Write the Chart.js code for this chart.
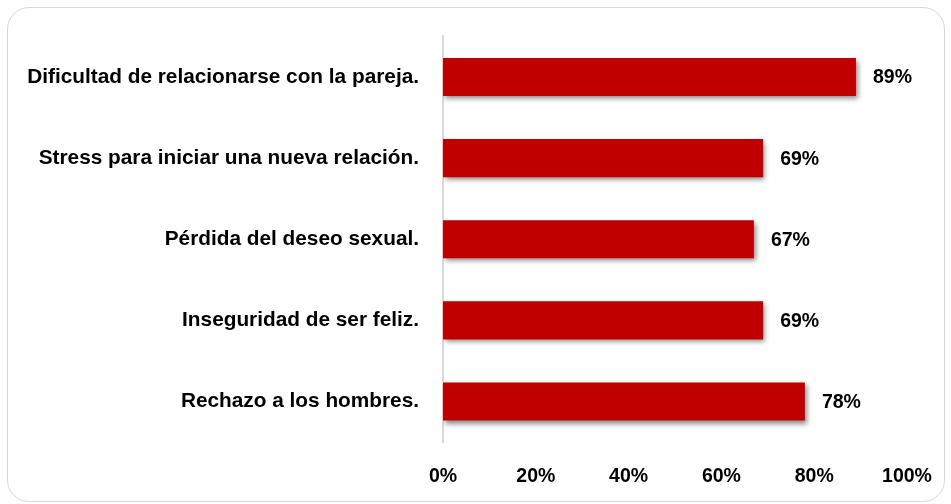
<!DOCTYPE html>
<html lang="es">
<head>
  <meta charset="UTF-8" />
  <title>Efectos en la relación</title>
  <script src="https://cdn.jsdelivr.net/npm/chart.js"></script>
  <style>
    html, body { margin: 0; padding: 0; background: #fff; }
    #marco { position: absolute; left: 7px; top: 7px; width: 936px; height: 493px; border: 1.5px solid #d9d9d9; border-radius: 22px; }
    #wrap { position: absolute; left: 0; top: 0; width: 951px; height: 504px; }
  </style>
</head>
<body>
<div id="marco"></div>
<div id="wrap"><canvas id="grafico" width="951" height="504"></canvas></div>

<script>
const categorias = [
  'Dificultad de relacionarse con la pareja.',
  'Stress para iniciar una nueva relación.',
  'Pérdida del deseo sexual.',
  'Inseguridad de ser feliz.',
  'Rechazo a los hombres.'
];
const valores = [89, 69, 67, 69, 78];
const ticksX = [0, 20, 40, 60, 80, 100];

const fuente = "'Liberation Sans', Arial, sans-serif";

// sombra de las barras
const sombra = {
  id: 'sombra',
  beforeDatasetDraw(chart) {
    const ctx = chart.ctx;
    ctx.save();
    ctx.shadowColor = 'rgba(0,0,0,0.45)';
    ctx.shadowBlur = 5;
    ctx.shadowOffsetX = 2;
    ctx.shadowOffsetY = 3;
  },
  afterDatasetDraw(chart) {
    chart.ctx.restore();
  }
};

// etiquetas de valor al final de cada barra
const etiquetas = {
  id: 'etiquetas',
  afterDatasetsDraw(chart) {
    const ctx = chart.ctx;
    const meta = chart.getDatasetMeta(0);
    ctx.save();
    ctx.font = 'bold 19.5px ' + fuente;
    ctx.fillStyle = '#000';
    ctx.textAlign = 'left';
    ctx.textBaseline = 'middle';
    meta.data.forEach((bar, i) => {
      ctx.fillText(valores[i] + '%', bar.x + 17, bar.y + 1);
    });
    ctx.restore();
  }
};

new Chart(document.getElementById('grafico'), {
  type: 'bar',
  data: {
    labels: categorias,
    datasets: [{
      data: valores,
      backgroundColor: '#C00000',
      borderWidth: 0,
      barPercentage: 0.47,
      categoryPercentage: 1
    }]
  },
  options: {
    indexAxis: 'y',
    responsive: false,
    animation: false,
    layout: { padding: { top: 35, right: 44, bottom: 0, left: 0 } },
    plugins: { legend: { display: false }, tooltip: { enabled: false } },
    scales: {
      x: {
        min: 0, max: 100,
        afterBuildTicks(scale) { scale.ticks = ticksX.map(v => ({ value: v })); },
        afterFit(scale) {
          scale.height = 62;
          scale.paddingLeft = 0;
          scale.paddingRight = 0;
        },
        grid: { display: false, drawTicks: false },
        border: { display: false },
        ticks: {
          padding: 23,
          color: '#000',
          font: { family: fuente, size: 19.5, weight: 'bold' },
          callback: v => v + '%'
        }
      },
      y: {
        afterFit(scale) { scale.width = 443; },
        grid: { display: false, drawTicks: false },
        border: { display: true, color: '#d9d9d9', width: 2 },
        ticks: {
          padding: 24,
          color: '#000',
          font: { family: fuente, size: 20.8, weight: 'bold' }
        }
      }
    }
  },
  plugins: [sombra, etiquetas]
});
</script>
</body>
</html>
